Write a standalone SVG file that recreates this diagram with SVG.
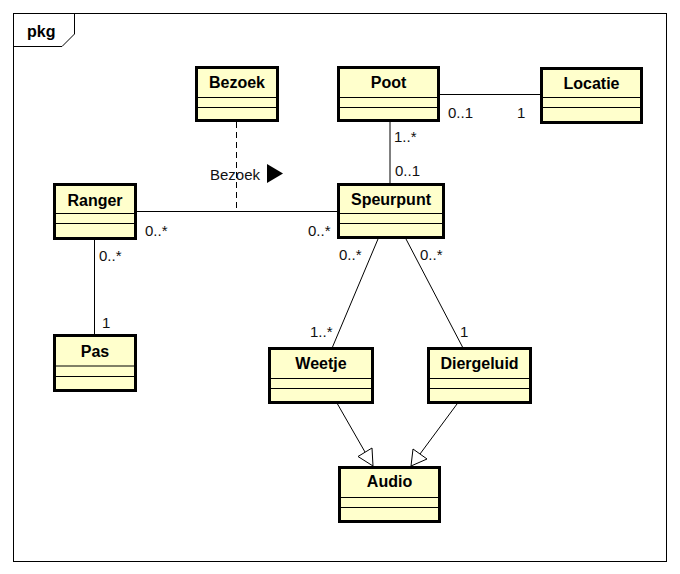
<svg xmlns="http://www.w3.org/2000/svg" width="680" height="574" viewBox="0 0 680 574">
  <defs>
    <style>
      .box { fill: #FFFFCC; stroke: #000; stroke-width: 3; }
      .sep { stroke: #000; stroke-width: 1; }
      .name { font-family: "Liberation Sans", Arial, sans-serif; font-size: 16px; font-weight: bold; fill: #000; text-anchor: middle; }
      .lbl { font-family: "Liberation Sans", Arial, sans-serif; font-size: 15px; fill: #111; }
      .line { stroke: #000; stroke-width: 1; fill: none; }
      .dash { stroke: #000; stroke-width: 1; fill: none; stroke-dasharray: 6 4; }
      .gen { fill: #fff; stroke: #000; stroke-width: 1; }
    </style>
  </defs>
  <rect width="680" height="574" fill="#fff"/>

  <!-- package frame -->
  <g id="frame">
    <rect x="13.5" y="13.5" width="653" height="548" fill="none" stroke="#000" stroke-width="1"/>
    <path d="M13.5 46.5 H62 L74.5 34 V13.5" fill="none" stroke="#000" stroke-width="1"/>
    <text x="27" y="37" class="name" style="text-anchor:start">pkg</text>
  </g>

  <!-- associations -->
  <g id="connectors">
    <line class="line" x1="440" y1="94.5" x2="540" y2="94.5"/>
    <line class="line" x1="390" y1="121" x2="390" y2="183"/>
    <line class="line" x1="137" y1="211.5" x2="337" y2="211.5"/>
    <line class="dash" x1="236.5" y1="122" x2="236.5" y2="211"/>
    <line class="line" x1="94.5" y1="240" x2="94.5" y2="334"/>
    <line class="line" x1="378" y1="239" x2="332.5" y2="347"/>
    <line class="line" x1="406" y1="239" x2="462.5" y2="347"/>
    <line class="line" x1="337.5" y1="404" x2="365" y2="452"/>
    <polygon class="gen" points="373,466 358,456.5 372,448"/>
    <line class="line" x1="457" y1="404" x2="420" y2="454"/>
    <polygon class="gen" points="411,466 413,449 427,459"/>

    <text class="lbl" x="448" y="118">0..1</text>
    <text class="lbl" x="517" y="118">1</text>
    <text class="lbl" x="394" y="142">1..*</text>
    <text class="lbl" x="395" y="176">0..1</text>
    <text class="lbl" x="145" y="236">0..*</text>
    <text class="lbl" x="308" y="236">0..*</text>
    <text class="lbl" x="210" y="180">Bezoek</text>
    <polygon points="267,164 283,173.5 267,183" fill="#000"/>
    <text class="lbl" x="99" y="261">0..*</text>
    <text class="lbl" x="102" y="328">1</text>
    <text class="lbl" x="339" y="260">0..*</text>
    <text class="lbl" x="310" y="337">1..*</text>
    <text class="lbl" x="420" y="260">0..*</text>
    <text class="lbl" x="460" y="337">1</text>
  </g>

  <g id="Bezoek">
    <rect class="box" x="196.5" y="67.5" width="81" height="53"/>
    <line class="sep" x1="197" y1="97.5" x2="277" y2="97.5"/>
    <line class="sep" x1="197" y1="107.5" x2="277" y2="107.5"/>
    <text class="name" x="237" y="88">Bezoek</text>
  </g>

  <g id="Poot">
    <rect class="box" x="338.5" y="67.5" width="100" height="53"/>
    <line class="sep" x1="339" y1="97.5" x2="438" y2="97.5"/>
    <line class="sep" x1="339" y1="107.5" x2="438" y2="107.5"/>
    <text class="name" x="388.5" y="88">Poot</text>
  </g>

  <g id="Locatie">
    <rect class="box" x="541.5" y="68.5" width="100" height="54"/>
    <line class="sep" x1="542" y1="97.5" x2="641" y2="97.5"/>
    <line class="sep" x1="542" y1="107.5" x2="641" y2="107.5"/>
    <text class="name" x="591.5" y="89">Locatie</text>
  </g>

  <g id="Ranger">
    <rect class="box" x="54.5" y="184.5" width="81" height="54"/>
    <line class="sep" x1="55" y1="213.5" x2="135" y2="213.5"/>
    <line class="sep" x1="55" y1="223.5" x2="135" y2="223.5"/>
    <text class="name" x="95" y="206">Ranger</text>
  </g>

  <g id="Speurpunt">
    <rect class="box" x="338.5" y="184.5" width="105" height="53"/>
    <line class="sep" x1="339" y1="213.5" x2="443" y2="213.5"/>
    <line class="sep" x1="339" y1="223.5" x2="443" y2="223.5"/>
    <text class="name" x="391" y="205">Speurpunt</text>
  </g>

  <g id="Pas">
    <rect class="box" x="54.5" y="335.5" width="81" height="55"/>
    <line class="sep" x1="55" y1="366" x2="135" y2="366"/>
    <line class="sep" x1="55" y1="376.5" x2="135" y2="376.5"/>
    <text class="name" x="95" y="357">Pas</text>
  </g>

  <g id="Weetje">
    <rect class="box" x="269.5" y="348.5" width="103" height="54"/>
    <line class="sep" x1="270" y1="378.5" x2="372" y2="378.5"/>
    <line class="sep" x1="270" y1="388.5" x2="372" y2="388.5"/>
    <text class="name" x="321" y="369">Weetje</text>
  </g>

  <g id="Diergeluid">
    <rect class="box" x="428.5" y="348.5" width="102" height="54"/>
    <line class="sep" x1="429" y1="378.5" x2="530" y2="378.5"/>
    <line class="sep" x1="429" y1="388.5" x2="530" y2="388.5"/>
    <text class="name" x="479.5" y="369">Diergeluid</text>
  </g>

  <g id="Audio">
    <rect class="box" x="339.5" y="467.5" width="100" height="54"/>
    <line class="sep" x1="340" y1="497.5" x2="439" y2="497.5"/>
    <line class="sep" x1="340" y1="507.5" x2="439" y2="507.5"/>
    <text class="name" x="389.5" y="487">Audio</text>
  </g>
</svg>
